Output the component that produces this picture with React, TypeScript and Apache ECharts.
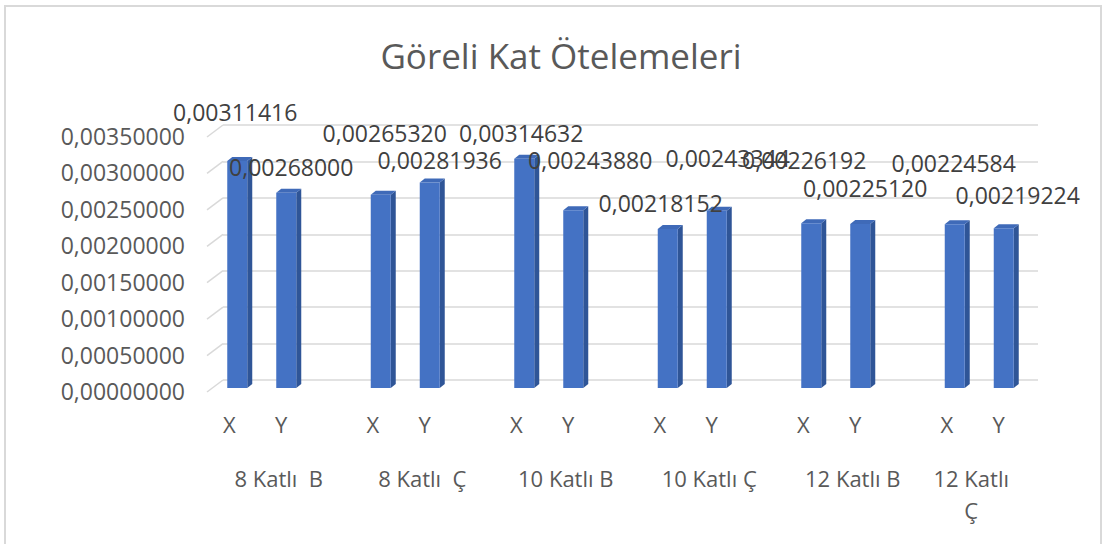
import React, { useEffect, useRef } from "react";
import * as echarts from "echarts";

const TITLE = "Göreli Kat Ötelemeleri";
const GROUPS = ["8 Katlı  B", "8 Katlı  Ç", "10 Katlı B", "10 Katlı Ç", "12 Katlı B", "12 Katlı Ç"];
const X_VALUES = [0.00311416, 0.0026532, 0.00314632, 0.00218152, 0.00226192, 0.00224584];
const Y_VALUES = [0.00268, 0.00281936, 0.0024388, 0.00243344, 0.0022512, 0.00219224];
const Y_TICKS = [0, 0.0005, 0.001, 0.0015, 0.002, 0.0025, 0.003, 0.0035];

// label placement (styling, Excel-like staggering)
const X_LABEL_LIFT = [49, 62, 26, 26, 63, 61];
const Y_LABEL_LIFT = [26, 23, 50, 53, 36, 33];
const X_LABEL_SHIFT = [-2, 4, -3, -7, -7, -1];
const Y_LABEL_SHIFT = [5, 10, 17, 11, 5, 14];

const FONT = "'Open Sans', 'Noto Sans', sans-serif";
const fmt = (v: number) => v.toFixed(8).replace(".", ",");

function barSeries(name: string, values: number[], offset: number, lift: number[], shift: number[]) {
  return {
    type: "custom",
    name,
    xAxisIndex: 1,
    yAxisIndex: 1,
    z: 3,
    data: values.map((v, i) => [i, v]),
    renderItem: (params: any, api: any) => {
      const i = api.value(0);
      const v = api.value(1);
      const c = api.coord([i, v]);
      const z = api.coord([i, 0]);
      const cx = c[0] + offset;
      const w = 20;
      const dx = 5;
      const dy = 4;
      const l = cx - w / 2;
      const r = cx + w / 2;
      const t = c[1] + 8;
      const b = z[1] + 8;
      return {
        type: "group",
        children: [
          {
            type: "polygon",
            shape: { points: [[r, b], [r + dx, b - dy], [r + dx, t - dy], [r, t]] },
            style: { fill: "#2F5597" },
          },
          {
            type: "polygon",
            shape: { points: [[l, t], [l + dx, t - dy], [r + dx, t - dy], [r, t]] },
            style: { fill: "#3F6AB8" },
          },
          {
            type: "rect",
            shape: { x: l, y: t, width: w, height: b - t },
            style: { fill: "#4472C4" },
          },
          {
            type: "text",
            z2: 100,
            x: cx + shift[i],
            y: t - lift[i],
            style: {
              text: fmt(v),
              font: `23px ${FONT}`,
              fill: "#404040",
              align: "center",
              verticalAlign: "middle",
            },
          },
        ],
      };
    },
  };
}

export default function App() {
  const ref = useRef<HTMLDivElement>(null);
  useEffect(() => {
    if (!ref.current) return;
    const chart = echarts.init(ref.current, null, { renderer: "svg" });
    const option: any = {
      animation: false,
      backgroundColor: "#ffffff",
      title: {
        text: TITLE,
        left: 556,
        top: 33,
        textAlign: "center",
        textStyle: { fontFamily: FONT, fontSize: 35, fontWeight: "normal", color: "#595959" },
      },
      graphic: [
        {
          type: "rect",
          shape: { x: 5, y: 6, width: 1096, height: 560 },
          style: { fill: "none", stroke: "#d9d9d9", lineWidth: 2 },
          silent: true,
        },
      ],
      grid: [
        { left: 223, right: 64, top: 125, bottom: 164 },
        { left: 190, right: 51, top: 125, bottom: 164 },
      ],
      xAxis: [
        { type: "value", gridIndex: 0, min: 0, max: 1, show: false },
        {
          type: "category",
          gridIndex: 1,
          data: GROUPS,
          position: "bottom",
          axisLine: { show: false },
          axisTick: { show: false },
          axisLabel: {
            margin: 33,
            interval: 0,
            formatter: () => "{x|X}{g|}{y|Y}{r|}",
            rich: {
              x: { width: 20, align: "center", fontSize: 22, fontFamily: FONT, color: "#595959" },
              g: { width: 32 },
              y: { width: 20, align: "center", fontSize: 22, fontFamily: FONT, color: "#595959" },
              r: { width: 13 },
            },
          },
        },
        {
          type: "category",
          gridIndex: 1,
          data: GROUPS,
          position: "bottom",
          axisLine: { show: false },
          axisTick: { show: false },
          axisLabel: {
            margin: 82,
            interval: 0,
            formatter: (name: string, idx: number) => {
              if (idx === GROUPS.length - 1) {
                const k = name.lastIndexOf(" ");
                return `{w|${name.slice(0, k)}}\n{w|${name.slice(k + 1)}}`;
              }
              return `{n|${name}}`;
            },
            rich: {
              n: { fontSize: 22, fontFamily: FONT, color: "#595959", padding: [0, 0, 0, 34], lineHeight: 32 },
              w: { fontSize: 22, fontFamily: FONT, color: "#595959", padding: [0, 16, 0, 0], lineHeight: 32 },
            },
          },
        },
      ],
      yAxis: [
        {
          type: "value",
          gridIndex: 0,
          min: 0,
          max: 0.0035,
          interval: 0.0005,
          axisLine: { show: false },
          axisTick: { show: false },
          splitLine: { lineStyle: { color: "#d9d9d9", width: 1.5 } },
          axisLabel: {
            margin: 38,
            formatter: (v: number) => `{a|${fmt(v)}}`,
            rich: {
              a: { fontSize: 23, fontFamily: FONT, color: "#595959", padding: [22, 0, 0, 0] },
            },
          },
        },
        { type: "value", gridIndex: 1, min: 0, max: 0.0035, interval: 0.0005, show: false },
      ],
      series: [
        {
          type: "custom",
          xAxisIndex: 0,
          yAxisIndex: 0,
          silent: true,
          data: Y_TICKS.map((t) => [0, t]),
          renderItem: (params: any, api: any) => {
            const p = api.coord([0, api.value(1)]);
            return {
              type: "line",
              shape: { x1: p[0] - 16, y1: p[1] + 12, x2: p[0], y2: p[1] },
              style: { stroke: "#d9d9d9", lineWidth: 1.5 },
            };
          },
        },
        barSeries("X", X_VALUES, -24.5, X_LABEL_LIFT, X_LABEL_SHIFT),
        barSeries("Y", Y_VALUES, 24.5, Y_LABEL_LIFT, Y_LABEL_SHIFT),
      ],
    };
    chart.setOption(option);
    return () => chart.dispose();
  }, []);
  return (
    <div
      ref={ref}
      style={{ position: "absolute", left: 0, top: 0, width: 1102, height: 544 }}
    />
  );
}
